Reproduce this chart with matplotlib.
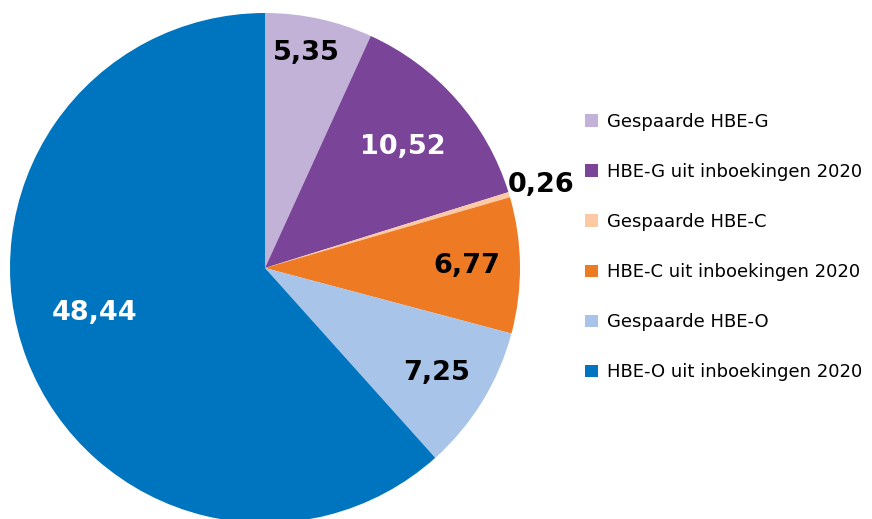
import numpy as np
import matplotlib
matplotlib.use("Agg")
import matplotlib.pyplot as plt

categories = ["Gespaarde HBE-G", "HBE-G uit inboekingen 2020", "Gespaarde HBE-C",
              "HBE-C uit inboekingen 2020", "Gespaarde HBE-O", "HBE-O uit inboekingen 2020"]
values = [5.35, 10.52, 0.26, 6.77, 7.25, 48.44]
value_labels = ["5,35", "10,52", "0,26", "6,77", "7,25", "48,44"]
colors = ["#c2b2d8", "#7a4598", "#fbc9a4", "#ee7b23", "#a8c4e9", "#0075bf"]
label_colors = ["black", "white", "black", "black", "black", "white"]
label_radius = [0.86, 0.72, 1.13, 0.79, 0.79, 0.69]
label_angle_shift = [1.5, 0, 0, 0, 0, -6]

W, H = 872, 519
fig = plt.figure(figsize=(W / 100, H / 100), dpi=100)
ax = fig.add_axes([0, 0, 1, 1])

cx, cy, R = 265, H - 268, 255
wedges, _ = ax.pie(values, colors=colors, startangle=90, counterclock=False,
                   center=(cx, cy), radius=R, frame=True,
                   wedgeprops=dict(linewidth=0))
ax.set_xlim(0, W)
ax.set_ylim(0, H)
ax.set_aspect("equal")
ax.axis("off")

total = sum(values)
cum = 0
for v, lab, lc, rf, sh in zip(values, value_labels, label_colors, label_radius,
                              label_angle_shift):
    mid = cum + v / 2
    cum += v
    ang = np.deg2rad(90 - 360 * mid / total + sh)
    x = cx + rf * R * np.cos(ang)
    y = cy + rf * R * np.sin(ang)
    ax.text(x, y, lab, ha="center", va="center", fontsize=19.5, fontweight="bold",
            color=lc)

leg = ax.legend(wedges, categories, loc="center left",
                bbox_to_anchor=(578 / W, 1 - 247 / H), frameon=False,
                fontsize=13, labelspacing=1.78, handlelength=0.68,
                handleheight=0.68, handletextpad=0.5, borderaxespad=0)

fig.savefig("out.png", dpi=100)
